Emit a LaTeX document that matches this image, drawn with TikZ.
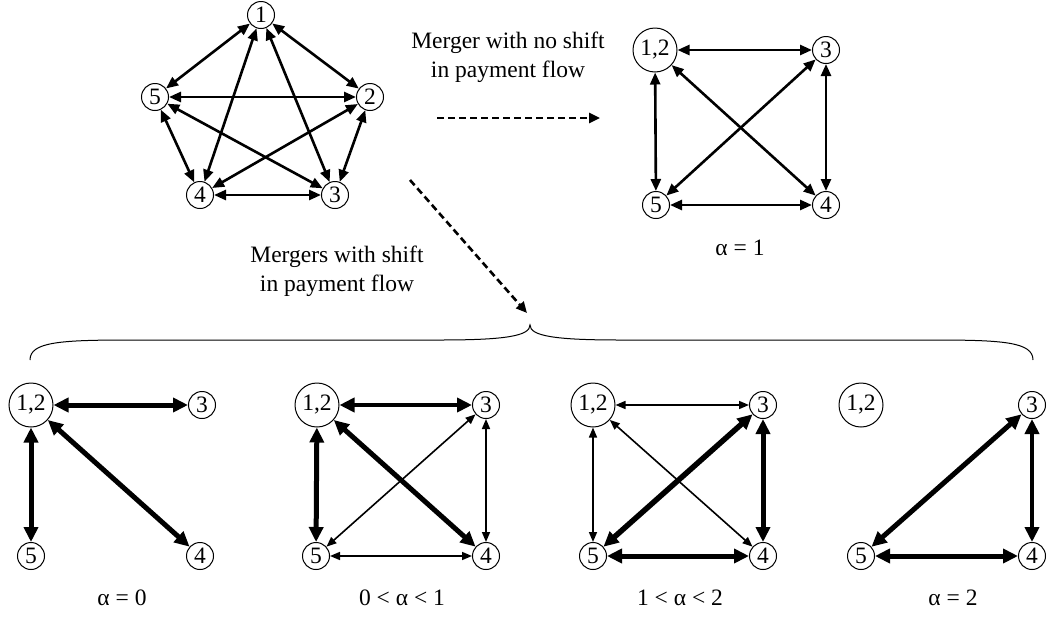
\documentclass[tikz,border=0pt]{standalone}
\usepackage{fontspec}
\setmainfont{Liberation Serif}
\usetikzlibrary{arrows.meta}
\begin{document}
\begin{tikzpicture}[x=1pt,y=-1pt,
  font=\fontsize{23.5}{29}\selectfont,
  sn/.style={circle,draw,line width=1pt,minimum size=27pt,inner sep=0pt},
  bn/.style={circle,draw,line width=1pt,minimum size=44pt,inner sep=0pt},
  med/.style={line width=2.6pt,{Triangle[length=12pt,width=10pt]}-{Triangle[length=12pt,width=10pt]}},
  thk/.style={line width=5pt,{Triangle[length=15pt,width=14pt]}-{Triangle[length=15pt,width=14pt]}},
  thn/.style={line width=1.6pt,{Triangle[length=10pt,width=8pt]}-{Triangle[length=10pt,width=8pt]}},
  dsh/.style={line width=2.6pt,dash pattern=on 7pt off 4pt,-{Triangle[length=11pt,width=10pt]}},
  lbl/.style={align=center,inner sep=0pt}]
\useasboundingbox (0,0) rectangle (1050,619);
% pentagon
\node[sn] (p1) at (261,15) {1};
\node[sn] (p2) at (370,97) {2};
\node[sn] (p5) at (155,97) {5};
\node[sn] (p4) at (200,195) {4};
\node[sn] (p3) at (335,195) {3};
\foreach \a/\b in {p1/p2,p1/p5,p1/p4,p1/p3,p5/p2,p5/p4,p5/p3,p2/p4,p2/p3,p4/p3}
  \draw[med] (\a) -- (\b);
% top right alpha=1
\node[bn] (tA) at (655,50) {1,2};
\node[sn] (tB) at (826,50) {3};
\node[sn] (tC) at (656,205) {5};
\node[sn] (tD) at (826,205) {4};
\foreach \a/\b in {tA/tB,tA/tC,tA/tD,tB/tC,tB/tD,tC/tD}
  \draw[med] (\a) -- (\b);
\node[lbl] (tL) at (740,248) {α = 1};
% texts and dashed arrows
\node[lbl] (m1) at (508,57) {Merger with no shift\\in payment flow};
\node[lbl] (m2) at (337,271) {Mergers with shift\\in payment flow};
\coordinate (h1) at (437,118);
\coordinate (h2) at (600,118);
\draw[dsh] (h1) -- (h2);
\coordinate (d1) at (410,180);
\coordinate (d2) at (527,313);
\draw[dsh] (d1) -- (d2);
% brace
\coordinate (bl) at (30,360);
\coordinate (bt) at (530,325);
\coordinate (br) at (1033,360);
\draw[line width=1pt] (bl) .. controls (30,342) and (60,340) .. (130,340) -- (440,340)
  .. controls (505,340) and (530,336) .. (bt)
  .. controls (530,336) and (555,340) .. (620,340) -- (933,340)
  .. controls (1003,340) and (1033,342) .. (br);
% graph 1 alpha=0
\node[bn] (aA) at (31,405) {1,2};
\node[sn] (aB) at (202,405) {3};
\node[sn] (aC) at (31,556) {5};
\node[sn] (aD) at (200,556) {4};
\draw[thk] (aA) -- (aB);
\draw[thk] (aA) -- (aC);
\draw[thk] (aA) -- (aD);
\node[lbl] (aL) at (122,598) {α = 0};
% graph 2 0<alpha<1
\node[bn] (bA) at (317,405) {1,2};
\node[sn] (bB) at (486,405) {3};
\node[sn] (bC) at (316,556) {5};
\node[sn] (bD) at (486,556) {4};
\draw[thk,line width=4.2pt] (bA) -- (bB);
\draw[thk] (bA) -- (bC);
\draw[thk] (bA) -- (bD);
\draw[thn] (bB) -- (bC);
\draw[thn] (bB) -- (bD);
\draw[thn] (bC) -- (bD);
\node[lbl] (bL) at (402,598) {0 < α < 1};
% graph 3 1<alpha<2
\node[bn] (cA) at (593,405) {1,2};
\node[sn] (cB) at (763,405) {3};
\node[sn] (cC) at (593,556) {5};
\node[sn] (cD) at (763,556) {4};
\draw[thn] (cA) -- (cB);
\draw[thn] (cA) -- (cC);
\draw[thn] (cA) -- (cD);
\draw[thk,line width=5.5pt] (cB) -- (cC);
\draw[thk] (cB) -- (cD);
\draw[thk] (cC) -- (cD);
\node[lbl] (cL) at (680,598) {1 < α < 2};
% graph 4 alpha=2
\node[bn] (dA) at (861,405) {1,2};
\node[sn] (dB) at (1032,405) {3};
\node[sn] (dC) at (861,556) {5};
\node[sn] (dD) at (1032,556) {4};
\draw[thk] (dB) -- (dC);
\draw[thk,line width=4.2pt] (dB) -- (dD);
\draw[thk] (dC) -- (dD);
\node[lbl] (dL) at (953,598) {α = 2};
\end{tikzpicture}
\end{document}
